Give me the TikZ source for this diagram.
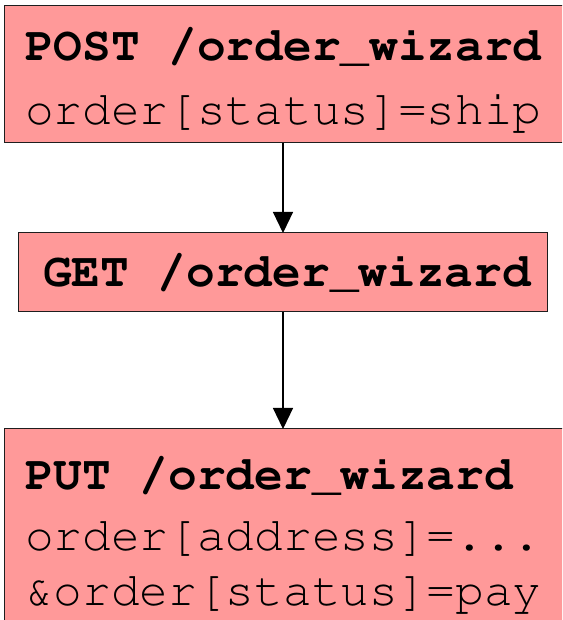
\documentclass[tikz,border=0pt]{standalone}
\usepackage[T1]{fontenc}
\usepackage{courier}
\usetikzlibrary{arrows.meta}
\definecolor{boxfill}{RGB}{255,153,153}
\definecolor{boxline}{RGB}{30,30,30}
\begin{document}
\begin{tikzpicture}[x=1pt,y=1pt,
  box/.style={draw=boxline,fill=boxfill,line width=1.3pt,rectangle,inner sep=0pt,anchor=south west},
  txt/.style={anchor=base west,inner sep=0pt,font=\ttfamily\fontsize{47.8}{56}\selectfont},
  bold/.style={txt,font=\ttfamily\bfseries\fontsize{47.8}{56}\selectfont},
  arr/.style={draw=black,line width=1.2pt,-{Triangle[width=20pt,length=21pt]}}]
\useasboundingbox (0,0) rectangle (562,620);
\fill[white] (0,0) rectangle (562,620);
\clip (0,0) rectangle (562,620);
\node[box,minimum width=575pt,minimum height=137pt] (b1) at (4,477) {};
\node[box,minimum width=529pt,minimum height=79pt] (b2) at (18,308) {};
\node[box,minimum width=575pt,minimum height=210pt] (b3) at (4,-19) {};
\node[bold] (t1) at (25,559) {POST /order\_wizard};
\node[txt] (t2) at (25,495) {order[status]=ship};
\node[bold] (t3) at (43,333) {GET /order\_wizard};
\node[bold] (t4) at (25,130) {PUT /order\_wizard};
\node[txt] (t5) at (25,69) {order[address]=...};
\node[txt] (t6) at (25,14) {\&order[status]=pay};
\coordinate (a1) at (283,477);
\coordinate (a2) at (283,387);
\coordinate (a3) at (283,308);
\coordinate (a4) at (283,191);
\draw[arr] (a1) -- (a2);
\draw[arr] (a3) -- (a4);
\end{tikzpicture}
\end{document}
